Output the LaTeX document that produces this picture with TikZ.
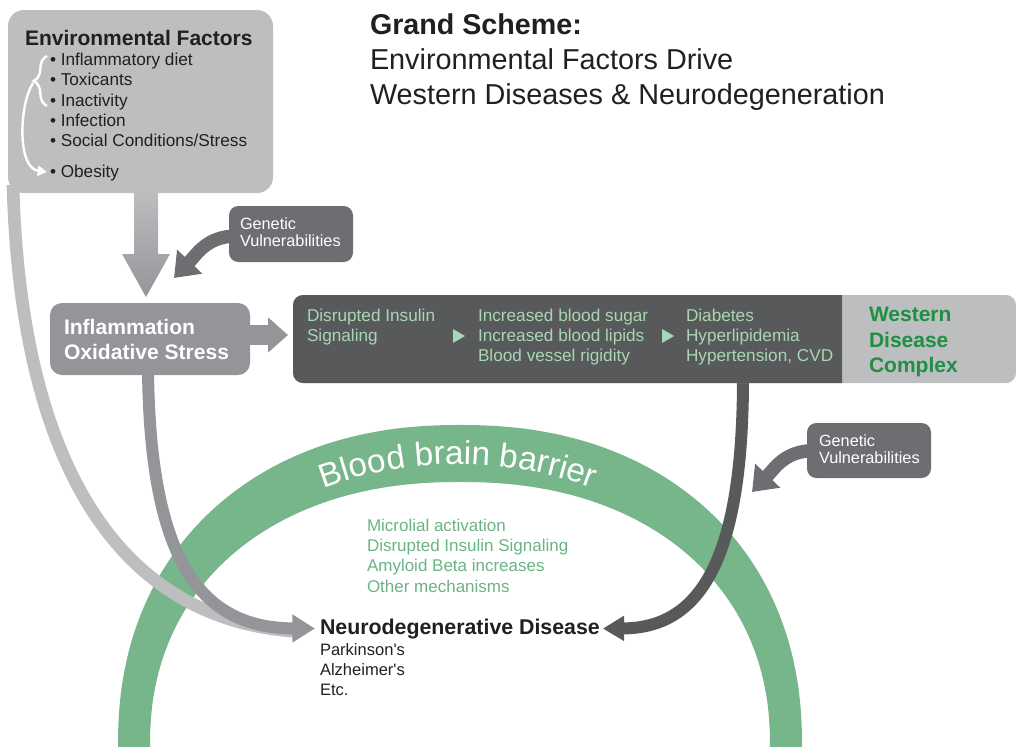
\documentclass[tikz,border=0pt]{standalone}
\usepackage{fontspec}
\setmainfont{Liberation Sans}
\usetikzlibrary{arrows.meta,decorations.pathreplacing,decorations.text,calc}
\definecolor{lgray}{HTML}{BCBEC0}
\definecolor{mgray}{HTML}{939598}
\definecolor{dgray}{HTML}{58595B}
\definecolor{ggray}{HTML}{6D6E71}
\definecolor{bbbg}{HTML}{77B58A}
\definecolor{mechg}{HTML}{6BB384}
\definecolor{paleg}{HTML}{A9D6B4}
\definecolor{wdcg}{HTML}{1F8F43}
\definecolor{txtc}{HTML}{231F20}
\newcommand\bbbfont{\fontsize{25}{29}\selectfont}
\pgfdeclarelayer{back}
\pgfdeclarelayer{mid}
\pgfsetlayers{back,mid,main}
\begin{document}
\begin{tikzpicture}[x=0.75pt,y=0.75pt,
  lbl/.style={anchor=base west, inner sep=0pt, outer sep=0pt},
  boxn/.style={anchor=north west, inner sep=0pt, outer sep=0pt, draw=none},
  ttlb/.style={lbl, text=txtc, font=\fontsize{21.5}{25}\selectfont\bfseries},
  ttl/.style={lbl, text=txtc, font=\fontsize{21.6}{25}\selectfont},
  envt/.style={lbl, text=txtc, font=\fontsize{15.75}{18}\selectfont\bfseries},
  envitem/.style={lbl, text=txtc, font=\fontsize{12.9}{15}\selectfont},
  gentxt/.style={lbl, text=white, font=\fontsize{12.2}{14}\selectfont},
  inftxt/.style={lbl, text=white, font=\fontsize{15.8}{18}\selectfont\bfseries},
  dktxt/.style={lbl, text=paleg, font=\fontsize{12.9}{15}\selectfont},
  wdctxt/.style={lbl, text=wdcg, font=\fontsize{15.75}{18}\selectfont\bfseries},
  mechtxt/.style={lbl, text=mechg, font=\fontsize{12.75}{15}\selectfont},
  neut/.style={lbl, text=txtc, font=\fontsize{16}{19}\selectfont\bfseries},
  neuitem/.style={lbl, text=txtc, font=\fontsize{12.4}{15}\selectfont},
  conn/.style={line cap=butt},
]
\useasboundingbox (0,0) rectangle (1016,-746);

% ---- boxes ----
\node[boxn, fill=lgray, rounded corners=12pt, minimum width=198.75pt, minimum height=137.25pt] (envbox) at (8,-10) {};
\node[boxn, fill=ggray, rounded corners=7pt, minimum width=93pt, minimum height=42pt] (gen1) at (229,-206) {};
\node[boxn, fill=mgray, rounded corners=9pt, minimum width=150pt, minimum height=54pt] (inflam) at (50,-303) {};
\node[boxn, fill=lgray, rounded corners=7.5pt, minimum width=542.25pt, minimum height=66pt] (wdc) at (293,-295) {};
\begin{scope}
  \clip (wdc.north west) rectangle ([shift={(-174,0)}]wdc.south east);
  \fill[dgray, rounded corners=7.5pt] (wdc.north west) rectangle (wdc.south east);
\end{scope}
\node[boxn, fill=ggray, rounded corners=7pt, minimum width=93pt, minimum height=41.25pt] (gen2) at (807,-423) {};

% ---- title ----
\node[ttlb] (ttl1) at (370,-34) {Grand Scheme:};
\node[ttl] (ttl2) at (370,-69) {Environmental Factors Drive};
\node[ttl] (ttl3) at (370,-104) {Western Diseases \& Neurodegeneration};

% ---- environmental factors ----
\node[envt] (envtitle) at (25,-45) {Environmental Factors};
\node[envitem] (e1) at (50,-65) {• Inflammatory diet};
\node[envitem] (e2) at (50,-85) {• Toxicants};
\node[envitem] (e3) at (50,-106) {• Inactivity};
\node[envitem] (e4) at (50,-126) {• Infection};
\node[envitem] (e5) at (50,-146) {• Social Conditions/Stress};
\node[envitem] (e6) at (50,-177) {• Obesity};
\draw[white, line width=1.8pt, decorate, decoration={brace, amplitude=10pt}] (47,-106) -- (47,-56);
\draw[white, line width=1.8pt, -{Triangle[length=7pt,width=7.5pt]}] (33,-83) .. controls (19,-105) and (17,-168) .. (47,-172);

% ---- genetic ----
\node[gentxt] (g1a) at (240,-229) {Genetic};
\node[gentxt] (g1b) at (240,-246) {Vulnerabilities};
\node[gentxt] (g2a) at (819,-446) {Genetic};
\node[gentxt] (g2b) at (819,-463) {Vulnerabilities};

% ---- inflammation ----
\node[inftxt] (i1) at (64,-334) {Inflammation};
\node[inftxt] (i2) at (64,-359) {Oxidative Stress};

% ---- western disease complex ----
\node[dktxt] (d1) at (307,-321) {Disrupted Insulin};
\node[dktxt] (d2) at (307,-341) {Signaling};
\node[dktxt] (d3) at (478,-321) {Increased blood sugar};
\node[dktxt] (d4) at (478,-341) {Increased blood lipids};
\node[dktxt] (d5) at (478,-361) {Blood vessel rigidity};
\node[dktxt] (d6) at (686,-321) {Diabetes};
\node[dktxt] (d7) at (686,-341) {Hyperlipidemia};
\node[dktxt] (d8) at (686,-361) {Hypertension, CVD};
\fill[paleg] (453,-329) -- (453,-343) -- (465,-336) -- cycle;
\fill[paleg] (662,-329) -- (662,-343) -- (674,-336) -- cycle;
\node[wdctxt] (w1) at (869,-321) {Western};
\node[wdctxt] (w2) at (869,-347) {Disease};
\node[wdctxt] (w3) at (869,-372) {Complex};

% ---- mechanisms and disease ----
\node[mechtxt] (m1) at (367,-531) {Microlial activation};
\node[mechtxt] (m2) at (367,-551) {Disrupted Insulin Signaling};
\node[mechtxt] (m3) at (367,-571) {Amyloid Beta increases};
\node[mechtxt] (m4) at (367,-592) {Other mechanisms};
\node[neut] (neuro) at (320,-634) {Neurodegenerative Disease};
\node[neuitem] (n1) at (320,-655) {Parkinson\textquotesingle s};
\node[neuitem] (n2) at (320,-675) {Alzheimer\textquotesingle s};
\node[neuitem] (n3) at (320,-695) {Etc.};

% ---- blood brain barrier ----
\begin{pgfonlayer}{back}
\fill[bbbg]
  plot[domain=0.5:179.5, samples=90, variable=\t, smooth]
    ({460 + 342*cos(\t)/abs(cos(\t))*pow(abs(cos(\t)),0.9091)}, {-746 + 321*pow(sin(\t),0.9091)})
  -- (118,-760) -- (150,-760)
  -- plot[domain=0.5:179.5, samples=90, variable=\t, smooth]
    ({460 - 310*cos(\t)/abs(cos(\t))*pow(abs(cos(\t)),0.9091)}, {-746 + 264*pow(sin(\t),0.9091)})
  -- (770,-760) -- (802,-760) -- cycle;
\path[decorate, decoration={text along path, text={|\bbbfont|Blood brain barrier}, text align=center, text color=white}]
  (458,-846) ++(120:382) arc[start angle=120, end angle=60, radius=382];
\end{pgfonlayer}

% ---- connectors ----
\coordinate (g1tip) at (174,-278);
\coordinate (g2tip) at (752,-492);
\begin{pgfonlayer}{mid}
\draw[conn, lgray, line width=9.5pt] ([shift={(5,8)}]envbox.south west) .. controls (20,-450) and (110,-620) .. ([shift={(-22,-3)}]neuro.west);
\draw[conn, mgray, line width=9pt, -{Triangle[length=17pt,width=20pt]}] ([shift={(-2,5)}]inflam.south) .. controls (150,-560) and (200,-628) .. ([shift={(-5,0)}]neuro.west);
\draw[conn, dgray, line width=9pt, -{Triangle[length=16pt,width=18pt]}] ([shift={(88.5,5)}]wdc.south) .. controls (743,-560) and (700,-628) .. ([shift={(3,0)}]neuro.east);
\draw[conn, ggray, line width=10pt, -{Triangle[length=17pt,width=25pt]}] ([shift={(8,-2)}]gen1.west) .. controls +(-30,0) and +(23,24) .. (g1tip);
\draw[conn, ggray, line width=10pt, -{Triangle[length=17pt,width=25pt]}] ([shift={(8,0)}]gen2.west) .. controls +(-30,0) and +(23,24) .. (g2tip);
\draw[conn, mgray, line width=15pt, -{Triangle[length=15pt,width=25.5pt]}] ($(inflam.east)+(-2,4)$) -- ($(inflam.east -| wdc.west)+(-5,4)$);
\end{pgfonlayer}
\shade[top color=lgray, bottom color=mgray] ([shift={(126,3)}]envbox.south west) -- ++(24,0) -- ++(0,-64) -- ++(12,0) -- ++(-24,-43) -- ++(-24,43) -- ++(12,0) -- cycle;
\end{tikzpicture}
\end{document}
